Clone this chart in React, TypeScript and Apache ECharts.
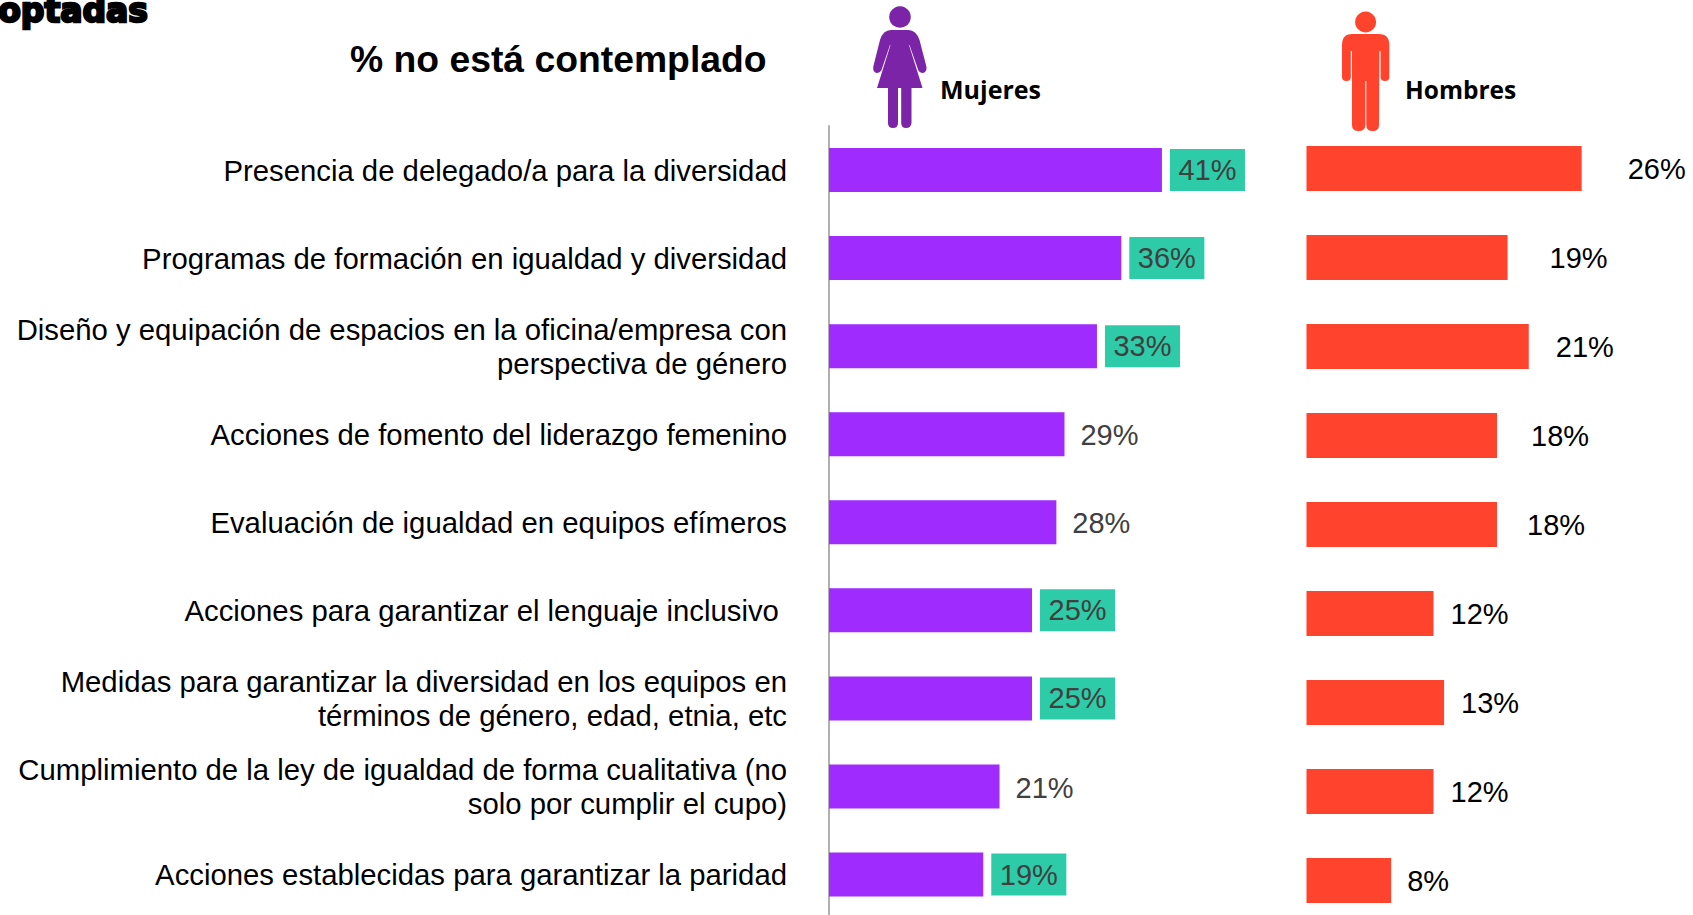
import React, { useEffect, useRef } from "react";
import * as echarts from "echarts";

const categories = [
  "Presencia de delegado/a para la diversidad",
  "Programas de formación en igualdad y diversidad",
  "Diseño y equipación de espacios en la oficina/empresa con\nperspectiva de género",
  "Acciones de fomento del liderazgo femenino",
  "Evaluación de igualdad en equipos efímeros",
  "Acciones para garantizar el lenguaje inclusivo\u00a0",
  "Medidas para garantizar la diversidad en los equipos en\ntérminos de género, edad, etnia, etc",
  "Cumplimiento de la ley de igualdad de forma cualitativa (no\nsolo por cumplir el cupo)",
  "Acciones establecidas para garantizar la paridad",
];
const mujeres = [41, 36, 33, 29, 28, 25, 25, 21, 19];
const hombres = [26, 19, 21, 18, 18, 12, 13, 12, 8];
const destacadas = [true, true, true, false, false, true, true, false, true];

const titulo = "% no está contemplado";
const corte = "optadas";
const serieMujeres = "Mujeres";
const serieHombres = "Hombres";

// layout only
const gapHombres = [46, 42, 27, 34, 30, 17, 17, 17, 16];

const WOMAN =
  "M891 30 L908.5 30 Q916 30 919.5 40 L926.5 67 Q927 72 923 73 Q919.5 73 918.2 70 L909.5 45 L909 45 L922.5 88 L911.5 88 L911.5 123 Q911 128 906 128 Q901.2 128 901.2 123 L901.2 88 L898 88 L898 123 Q898 128 893 128 Q888 128 888 123 L888 88 L877 88 L890.5 45 L890 45 L881.5 70 Q880 73 876.5 73 Q872.7 72 873.2 67 L880 40 Q883 30 891 30 Z";
const MAN =
  "M1352 34 L1379 34 Q1389.3 34 1389.3 45 L1389.3 77 Q1389.3 81 1385 81 Q1380.6 81 1380.6 77 L1380.6 51 L1379.4 51 L1379 125 Q1379 131 1372.5 131 Q1366.3 131 1366.3 125 L1366.3 81 L1365.3 81 L1365.3 125 Q1365.3 131 1358.6 131 Q1352 131 1352 125 L1352 51 L1350.8 51 L1350.8 77 Q1350.8 81 1346.4 81 Q1342 81 1342 77 L1342 45 Q1342 34 1352 34 Z";

echarts.graphic.registerShape("woman", echarts.graphic.extendPath(WOMAN, {}) as any);
echarts.graphic.registerShape("man", echarts.graphic.extendPath(MAN, {}) as any);

const SANS = '"Liberation Sans", Arial, sans-serif';

export default function App() {
  const ref = useRef<HTMLDivElement>(null);
  useEffect(() => {
    document.body.style.margin = "0";
    const chart = echarts.init(ref.current!, undefined, { renderer: "svg" });
    chart.setOption({
      animation: false,
      backgroundColor: "#ffffff",
      grid: [
        { left: 829, top: 126, width: 406, height: 792.6, outerBoundsMode: "none" },
        { left: 1306.5, top: 124, width: 381, height: 801, outerBoundsMode: "none" },
      ],
      xAxis: [
        { gridIndex: 0, type: "value", min: 0, max: 50, show: false },
        { gridIndex: 1, type: "value", min: 0, max: 36, show: false },
      ],
      yAxis: [
        {
          gridIndex: 0,
          type: "category",
          inverse: true,
          data: categories,
          axisTick: { show: false },
          axisLine: { show: true, lineStyle: { color: "#B0B0B0", width: 2 } },
          axisLabel: {
            interval: 0,
            margin: 42,
            color: "#000000",
            fontFamily: SANS,
            fontSize: 29.3,
            lineHeight: 34,
            align: "right",
            padding: [0, 0, 6, 0],
          },
        },
        { gridIndex: 1, type: "category", inverse: true, data: categories, show: false },
      ],
      series: [
        {
          name: serieMujeres,
          type: "bar",
          xAxisIndex: 0,
          yAxisIndex: 0,
          barWidth: 44,
          itemStyle: { color: "#A02BFF" },
          data: mujeres.map((v, i) => ({
            value: v,
            label: destacadas[i]
              ? {
                  show: true,
                  position: "right",
                  distance: 8,
                  formatter: "{c}%",
                  color: "#404040",
                  fontFamily: SANS,
                  fontSize: 29,
                  lineHeight: 42,
                  backgroundColor: "#2ECBA8",
                  padding: [0, 8.5, 0, 8.5],
                }
              : {
                  show: true,
                  position: "right",
                  distance: 16,
                  formatter: "{c}%",
                  color: "#404040",
                  fontFamily: SANS,
                  fontSize: 29,
                  offset: [0, 1],
                },
          })),
        },
        {
          name: serieHombres,
          type: "bar",
          xAxisIndex: 1,
          yAxisIndex: 1,
          barWidth: 45,
          itemStyle: { color: "#FF432D" },
          data: hombres.map((v, i) => ({
            value: v,
            label: {
              show: true,
              position: "right",
              distance: gapHombres[i],
              formatter: "{c}%",
              color: "#000000",
              fontFamily: SANS,
              fontSize: 29,
            },
          })),
        },
      ],
      graphic: [
        {
          type: "text",
          x: 148,
          y: 10,
          style: {
            text: corte,
            fill: "#000",
            stroke: "#000",
            lineWidth: 2.4,
            font: 'bold 33px "DejaVu Sans"',
            textAlign: "right",
            textVerticalAlign: "middle",
          },
        },
        {
          type: "text",
          x: 350,
          y: 59,
          style: {
            text: titulo,
            fill: "#000",
            font: `bold 37.3px ${SANS}`,
            textAlign: "left",
            textVerticalAlign: "middle",
          },
        },
        { type: "circle", shape: { cx: 900, cy: 17, r: 10.8 }, style: { fill: "#7B24A8" } },
        { type: "woman", x: 0, y: 0, style: { fill: "#7B24A8" } },
        { type: "circle", shape: { cx: 1365.6, cy: 22, r: 10.5 }, style: { fill: "#FF432D" } },
        { type: "man", x: 0, y: 0, style: { fill: "#FF432D" } },
        {
          type: "text",
          x: 940,
          y: 89,
          style: {
            text: serieMujeres,
            fill: "#000",
            font: 'bold 25px "Open Sans"',
            textAlign: "left",
            textVerticalAlign: "middle",
          },
        },
        {
          type: "text",
          x: 1405,
          y: 89,
          style: {
            text: serieHombres,
            fill: "#000",
            font: 'bold 24.5px "Open Sans"',
            textAlign: "left",
            textVerticalAlign: "middle",
          },
        },
      ],
    });
    return () => chart.dispose();
  }, []);
  return <div ref={ref} style={{ width: 1693, height: 915, overflow: "hidden" }} />;
}
